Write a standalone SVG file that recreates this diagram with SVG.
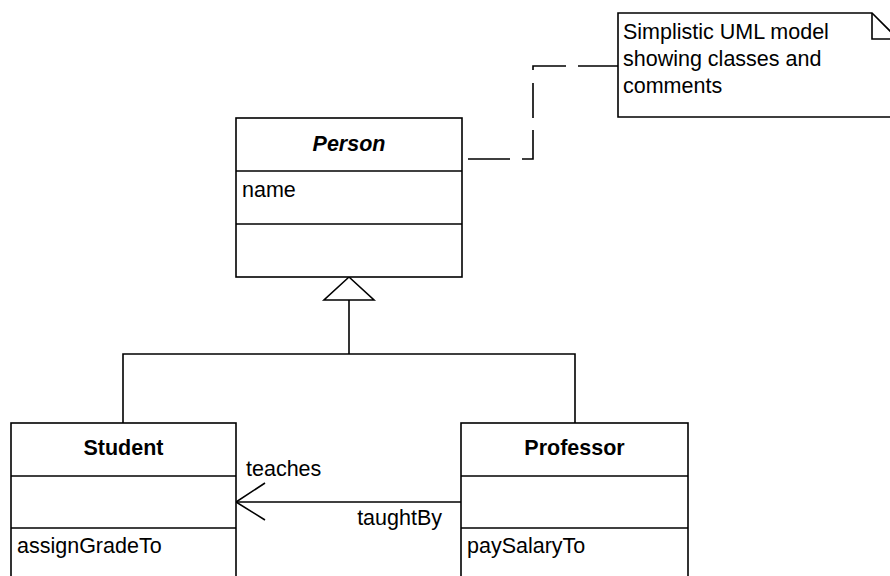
<svg xmlns="http://www.w3.org/2000/svg" width="890" height="576" viewBox="0 0 890 576">
  <style>
    .box { fill: #fff; stroke: #000; stroke-width: 1.6; }
    .ln { fill: none; stroke: #000; stroke-width: 1.6; }
    .dash { fill: none; stroke: #000; stroke-width: 1.6; stroke-dasharray: 42 12 40 12 35 13 37 12 40; }
    text { font-family: "Liberation Sans", Arial, Helvetica, sans-serif; font-size: 21.5px; fill: #000; }
    .title { font-weight: bold; text-anchor: middle; }
    .abstract { font-style: italic; }
  </style>
  <rect width="890" height="576" fill="#fff"/>

  <!-- connectors -->
  <g id="connectors">
    <!-- generalization: Student / Professor to Person -->
    <polyline class="ln" points="123,423 123,354 575,354 575,423"/>
    <line class="ln" x1="349" y1="354" x2="349" y2="300"/>
    <polygon class="box" points="349,277 374,300 324,300"/>
    <!-- association Professor -> Student -->
    <line class="ln" x1="461" y1="502" x2="236" y2="502"/>
    <polyline class="ln" points="265,483 236,502 265,520"/>
    <text x="246" y="476">teaches</text>
    <text x="442" y="525" text-anchor="end">taughtBy</text>
    <!-- note anchor -->
    <polyline class="dash" points="468,159 533,159 533,66 618,66"/>
  </g>

  <!-- Person class -->
  <g id="person">
    <rect class="box" x="236" y="118" width="226" height="159"/>
    <line class="ln" x1="236" y1="171" x2="462" y2="171"/>
    <line class="ln" x1="236" y1="224" x2="462" y2="224"/>
    <text class="title abstract" x="349" y="151">Person</text>
    <text x="242" y="197">name</text>
  </g>

  <!-- Student class -->
  <g id="student">
    <rect class="box" x="11" y="423" width="225" height="160"/>
    <line class="ln" x1="11" y1="476" x2="236" y2="476"/>
    <line class="ln" x1="11" y1="528" x2="236" y2="528"/>
    <text class="title" x="123.5" y="455">Student</text>
    <text x="17" y="553">assignGradeTo</text>
  </g>

  <!-- Professor class -->
  <g id="professor">
    <rect class="box" x="461" y="423" width="227" height="160"/>
    <line class="ln" x1="461" y1="476" x2="688" y2="476"/>
    <line class="ln" x1="461" y1="528" x2="688" y2="528"/>
    <text class="title" x="574.5" y="455">Professor</text>
    <text x="467" y="553">paySalaryTo</text>
  </g>

  <!-- comment note -->
  <g id="note">
    <path class="box" d="M618,13 H872 L898,39 V117 H618 Z"/>
    <polyline class="ln" points="872,13 872,39 898,39"/>
    <text x="623" y="39">Simplistic UML model</text>
    <text x="623" y="66">showing classes and</text>
    <text x="623" y="93">comments</text>
  </g>
</svg>
